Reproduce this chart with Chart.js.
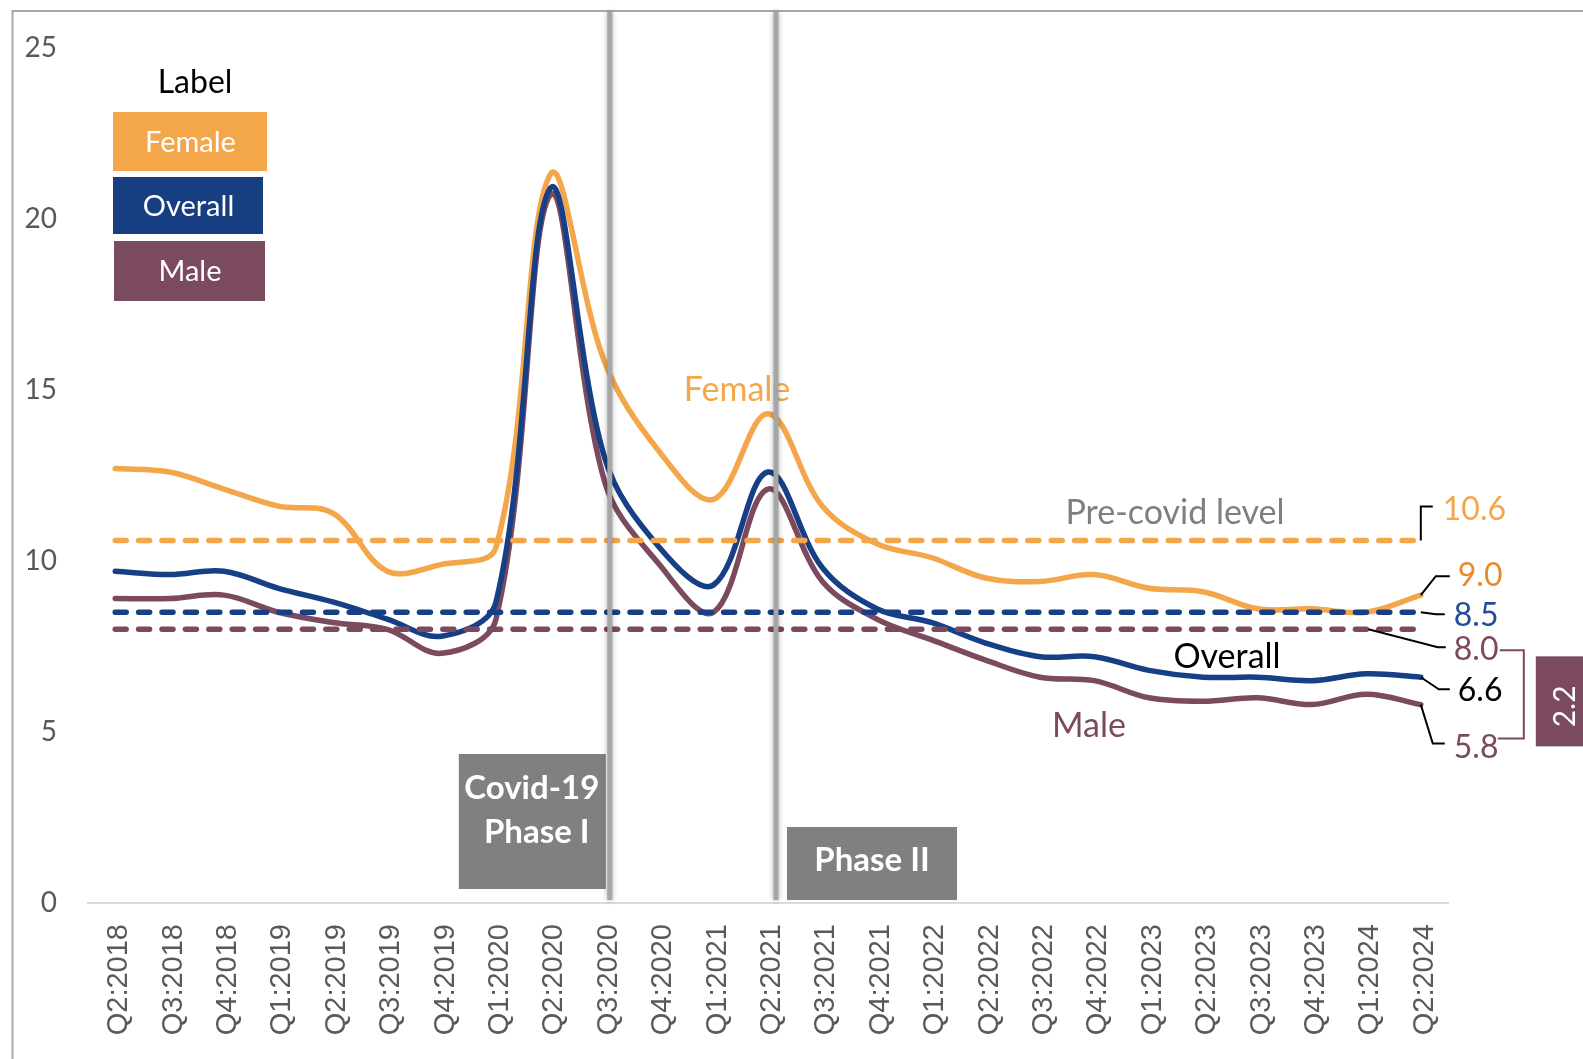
<!DOCTYPE html>
<html>
<head>
<meta charset="utf-8">
<script src="https://cdn.jsdelivr.net/npm/chart.js@4.4.1/dist/chart.umd.min.js"></script>
<style>
  html, body { margin: 0; padding: 0; background: #ffffff; overflow: hidden; }
  #wrap { width: 1583px; height: 1059px; position: relative; }
  canvas { display: block; }
</style>
</head>
<body>
<div id="wrap"><canvas id="chart" width="1583" height="1059"></canvas></div>
<script>
// Quarterly unemployment rate (%) by gender
const quarters = [
  'Q2:2018', 'Q3:2018', 'Q4:2018', 'Q1:2019', 'Q2:2019', 'Q3:2019', 'Q4:2019',
  'Q1:2020', 'Q2:2020', 'Q3:2020', 'Q4:2020', 'Q1:2021', 'Q2:2021', 'Q3:2021',
  'Q4:2021', 'Q1:2022', 'Q2:2022', 'Q3:2022', 'Q4:2022', 'Q1:2023', 'Q2:2023',
  'Q3:2023', 'Q4:2023', 'Q1:2024', 'Q2:2024'
];
const female  = [12.7, 12.6, 12.1, 11.6, 11.4, 9.7, 9.9, 10.4, 21.3, 15.8, 13.2, 11.8, 14.3,
                 11.6, 10.5, 10.1, 9.5, 9.4, 9.6, 9.2, 9.1, 8.6, 8.6, 8.5, 9.0];
const overall = [9.7, 9.6, 9.7, 9.2, 8.8, 8.3, 7.8, 8.8, 20.9, 13.0, 10.4, 9.3, 12.6,
                 9.8, 8.6, 8.2, 7.6, 7.2, 7.2, 6.8, 6.6, 6.6, 6.5, 6.7, 6.6];
const male    = [8.9, 8.9, 9.0, 8.5, 8.2, 8.0, 7.3, 8.3, 20.7, 12.3, 9.9, 8.5, 12.1,
                 9.4, 8.3, 7.7, 7.1, 6.6, 6.5, 6.0, 5.9, 6.0, 5.8, 6.1, 5.8];

// Pre-covid reference levels
const preCovidFemale = 10.6;
const preCovidOverall = 8.5;
const preCovidMale = 8.0;

// Covid phase markers
const phaseQuarters = ['Q3:2020', 'Q2:2021'];
const yTicks = [0, 5, 10, 15, 20, 25];

const ORANGE = '#F4A64A';
const ORANGE_DARK = '#E88A2C';
const BLUE = '#173F85';
const BLUE_TEXT = '#1F4E9A';
const MAROON = '#7B4A5F';
const GREY_BOX = '#808080';
const FONT = 'Lato, "Open Sans", sans-serif';

const first = quarters[0];
const last = quarters[quarters.length - 1];
const levelLine = (v) => [{ x: first, y: v }, { x: last, y: v }];

const dashedStyle = {
  borderWidth: 5.5,
  borderDash: [11, 12.4],
  borderCapStyle: 'round',
  pointRadius: 0,
  tension: 0,
  fill: false
};
const solidStyle = {
  borderWidth: 5.5,
  pointRadius: 0,
  tension: 0.36,
  fill: false,
  borderCapStyle: 'round',
  borderJoinStyle: 'round'
};

function text(ctx, str, x, y, font, color, align) {
  ctx.font = font;
  ctx.fillStyle = color;
  ctx.textAlign = align || 'center';
  ctx.textBaseline = 'middle';
  ctx.fillText(str, x, y);
}

function polyline(ctx, pts, color, width) {
  ctx.beginPath();
  ctx.moveTo(pts[0][0], pts[0][1]);
  for (let i = 1; i < pts.length; i++) ctx.lineTo(pts[i][0], pts[i][1]);
  ctx.strokeStyle = color;
  ctx.lineWidth = width;
  ctx.lineJoin = 'miter';
  ctx.lineCap = 'butt';
  ctx.stroke();
}

const decorations = {
  id: 'decorations',
  beforeDraw(chart) {
    const ctx = chart.ctx;
    ctx.save();
    ctx.fillStyle = '#ffffff';
    ctx.fillRect(0, 0, chart.width, chart.height);
    // outer frame (top and left edges)
    ctx.strokeStyle = '#A9A9A9';
    ctx.lineWidth = 2;
    ctx.beginPath();
    ctx.moveTo(chart.width, 11);
    ctx.lineTo(12.5, 11);
    ctx.lineTo(12.5, chart.height);
    ctx.stroke();
    ctx.restore();
  },
  afterDatasetsDraw(chart) {
    const ctx = chart.ctx;
    const xs = chart.scales.x, ys = chart.scales.y;
    const n = quarters.length;
    const xEnd = xs.getPixelForValue(n - 1);
    const xPrev = xs.getPixelForValue(n - 2);
    const y0 = ys.getPixelForValue(0);
    ctx.save();

    // legend block
    text(ctx, 'Label', 195, 83, '32px ' + FONT, '#000000');
    const legend = [
      ['Female', ORANGE, 113, 112, 154, 59],
      ['Overall', '#163E80', 113, 177, 150, 57],
      ['Male', MAROON, 114, 241, 151, 60]
    ];
    legend.forEach(([name, col, x, y, w, h]) => {
      ctx.fillStyle = col;
      ctx.fillRect(x, y, w, h);
      text(ctx, name, x + w / 2 + 0.5, y + h / 2 + 1, '29px ' + FONT, '#ffffff');
    });

    // series names inside the plot
    text(ctx, 'Female', 737, 390, '34px ' + FONT, ORANGE);
    text(ctx, 'Pre-covid level', 1175, 513, '34px ' + FONT, '#7F7F7F');
    text(ctx, 'Overall', 1227, 657, '34px ' + FONT, '#000000');
    text(ctx, 'Male', 1089, 726, '34px ' + FONT, MAROON);

    // end-of-series value labels with leader lines
    const yF = ys.getPixelForValue(preCovidFemale);
    const yFe = ys.getPixelForValue(female[n - 1]);
    const yO = ys.getPixelForValue(preCovidOverall);
    const yM = ys.getPixelForValue(preCovidMale);
    const yOe = ys.getPixelForValue(overall[n - 1]);
    const yMe = ys.getPixelForValue(male[n - 1]);
    const vf = '32px ' + FONT;

    polyline(ctx, [[xEnd, yF], [xEnd, yF - 34], [xEnd + 12, yF - 34]], '#000', 2);
    text(ctx, preCovidFemale.toFixed(1), xEnd + 22, yF - 31, vf, ORANGE, 'left');

    polyline(ctx, [[xEnd, yFe], [xEnd + 15, yFe - 19], [xEnd + 29, yFe - 19]], '#000', 2);
    text(ctx, female[n - 1].toFixed(1), xEnd + 37, yFe - 19, vf, ORANGE_DARK, 'left');

    polyline(ctx, [[xEnd, yO], [xEnd + 15, yO + 2], [xEnd + 24, yO + 2]], '#000', 2);
    text(ctx, preCovidOverall.toFixed(1), xEnd + 33, yO + 3, vf, BLUE_TEXT, 'left');

    polyline(ctx, [[xPrev + 2, yM], [xEnd + 17, yM + 18], [xEnd + 25, yM + 18]], '#000', 2);
    text(ctx, preCovidMale.toFixed(1), xEnd + 33, yM + 20, vf, MAROON, 'left');

    polyline(ctx, [[xEnd, yOe], [xEnd + 18, yOe + 12], [xEnd + 29, yOe + 12]], '#000', 2);
    text(ctx, overall[n - 1].toFixed(1), xEnd + 37, yOe + 13, vf, '#000000', 'left');

    polyline(ctx, [[xEnd, yMe], [xEnd + 12, yMe + 39], [xEnd + 24, yMe + 39]], '#000', 2);
    text(ctx, male[n - 1].toFixed(1), xEnd + 33, yMe + 43, vf, MAROON, 'left');

    // bracket showing the male gap to its pre-covid level
    const bx0 = xEnd + 79, bx1 = xEnd + 103;
    const by0 = yM + 21, by1 = yMe + 34;
    polyline(ctx, [[bx0, by0], [bx1, by0], [bx1, by1], [bx0 - 2, by1]], MAROON, 2);
    ctx.fillStyle = MAROON;
    ctx.fillRect(bx1 + 12, by0 + 6, chart.width - (bx1 + 12), 90);
    ctx.save();
    ctx.translate(bx1 + 42, by0 + 56);
    ctx.rotate(-Math.PI / 2);
    text(ctx, (preCovidMale - male[n - 1]).toFixed(1), 0, 0, '30px ' + FONT, '#ffffff');
    ctx.restore();

    // covid phase boxes
    const xP1 = xs.getPixelForValue(quarters.indexOf(phaseQuarters[0]));
    const xP2 = xs.getPixelForValue(quarters.indexOf(phaseQuarters[1]));
    ctx.fillStyle = GREY_BOX;
    ctx.fillRect(xP1 - 146, y0 - 149, 147, 135);
    text(ctx, 'Covid-19', xP1 - 73, y0 - 115, 'bold 33px ' + FONT, '#ffffff');
    text(ctx, 'Phase I', xP1 - 68, y0 - 71, 'bold 33px ' + FONT, '#ffffff');
    ctx.fillStyle = GREY_BOX;
    ctx.fillRect(xP2 + 19, y0 - 76, 170, 73);
    text(ctx, 'Phase II', xP2 + 104, y0 - 43, 'bold 33px ' + FONT, '#ffffff');

    // phase divider lines
    ctx.save();
    ctx.shadowColor = 'rgba(0,0,0,0.35)';
    ctx.shadowBlur = 5;
    ctx.strokeStyle = '#A6A6A6';
    ctx.lineWidth = 5;
    ctx.lineCap = 'butt';
    [xP1 + 5, xP2 + 8].forEach((x) => {
      ctx.beginPath();
      ctx.moveTo(x, 12);
      ctx.lineTo(x, y0 - 3);
      ctx.stroke();
    });
    ctx.restore();

    ctx.restore();
  }
};

new Chart(document.getElementById('chart'), {
  type: 'line',
  data: {
    labels: quarters,
    datasets: [
      Object.assign({ label: 'Female pre-covid', data: levelLine(preCovidFemale), borderColor: ORANGE, order: 0 }, dashedStyle),
      Object.assign({ label: 'Overall pre-covid', data: levelLine(preCovidOverall), borderColor: BLUE, order: 0 }, dashedStyle),
      Object.assign({ label: 'Male pre-covid', data: levelLine(preCovidMale), borderColor: MAROON, order: 0 }, dashedStyle),
      Object.assign({ label: 'Overall', data: overall, borderColor: BLUE, order: 1 }, solidStyle),
      Object.assign({ label: 'Male', data: male, borderColor: MAROON, order: 2 }, solidStyle),
      Object.assign({ label: 'Female', data: female, borderColor: ORANGE, order: 3 }, solidStyle)
    ]
  },
  options: {
    responsive: false,
    animation: false,
    devicePixelRatio: 1,
    layout: { padding: { top: 42.5, right: 135, left: 0, bottom: 0 } },
    plugins: {
      legend: { display: false },
      tooltip: { enabled: false }
    },
    scales: {
      x: {
        type: 'category',
        offset: true,
        grid: { display: false, drawTicks: false },
        border: { display: true, color: '#D9D9D9', width: 2 },
        ticks: {
          autoSkip: false,
          minRotation: 90,
          maxRotation: 90,
          padding: 21,
          labelOffset: 4,
          color: '#595959',
          font: { family: '"Liberation Sans", Arial, sans-serif', size: 29 }
        },
        afterFit(scale) { scale.height = 156; }
      },
      y: {
        min: 0,
        max: 25,
        afterBuildTicks(scale) { scale.ticks = yTicks.map((v) => ({ value: v })); },
        grid: { display: false, drawTicks: false },
        border: { display: false },
        ticks: {
          padding: 31,
          color: '#595959',
          font: { family: FONT, size: 28 }
        },
        afterFit(scale) { scale.width = 88; }
      }
    }
  },
  plugins: [decorations]
});
</script>
</body>
</html>
